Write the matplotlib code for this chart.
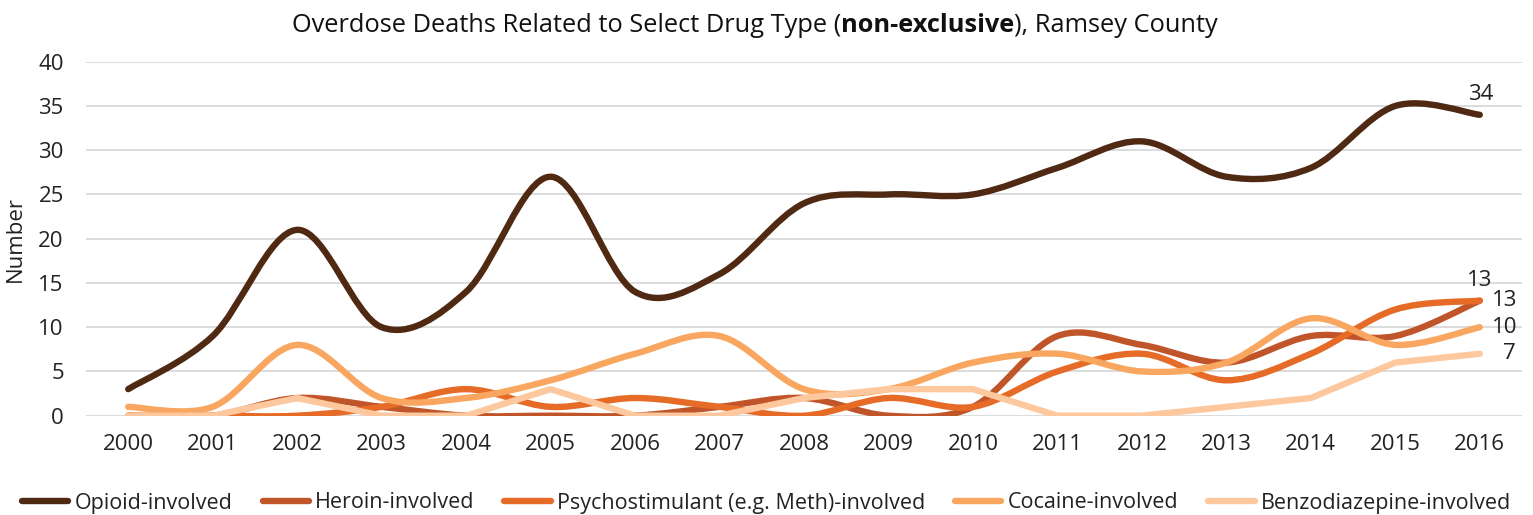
import numpy as np
import matplotlib
matplotlib.use("Agg")
import matplotlib.pyplot as plt
from matplotlib.path import Path
from matplotlib.patches import PathPatch
from matplotlib.lines import Line2D

plt.rcParams['font.family'] = ['Open Sans', 'DejaVu Sans']

years = list(range(2000, 2017))
opioid = [3, 9, 21, 10, 14, 27, 14, 16, 24, 25, 25, 28, 31, 27, 28, 35, 34]
heroin = [0, 0, 2, 1, 0, 0, 0, 1, 2, 0, 1, 9, 8, 6, 9, 9, 13]
psycho = [0, 0, 0, 1, 3, 1, 2, 1, 0, 2, 1, 5, 7, 4, 7, 12, 13]
cocaine = [1, 1, 8, 2, 2, 4, 7, 9, 3, 3, 6, 7, 5, 6, 11, 8, 10]
benzo = [0, 0, 2, 0, 0, 3, 0, 0, 2, 3, 3, 0, 0, 1, 2, 6, 7]

names = ['Opioid-involved', 'Heroin-involved',
         'Psychostimulant (e.g. Meth)-involved', 'Cocaine-involved',
         'Benzodiazepine-involved']
colors = ['#4F2912', '#C0552A', '#E56B27', '#F9A660', '#FDC89D']
smoothed = [True, True, True, True, False]
series = [opioid, heroin, psycho, cocaine, benzo]


def smooth_path(x, y):
    # cubic bezier through every point, catmull-rom style control points
    x = np.asarray(x, float)
    y = np.asarray(y, float)
    pts = np.column_stack([x, y])
    verts = [pts[0]]
    codes = [Path.MOVETO]
    n = len(pts)
    for i in range(n - 1):
        p0 = pts[max(i - 1, 0)]
        p1 = pts[i]
        p2 = pts[i + 1]
        p3 = pts[min(i + 2, n - 1)]
        c1 = p1 + (p2 - p0) / 6.0
        c2 = p2 - (p3 - p1) / 6.0
        verts += [c1, c2, p2]
        codes += [Path.CURVE4] * 3
    return Path(verts, codes)


fig = plt.figure(figsize=(15.33, 5.15), dpi=100)
ax = fig.add_axes([86 / 1533, 99.3 / 515, 1436 / 1533, 354 / 515])

lw = 4.6
for vals, col, sm in zip(series, colors, smoothed):
    if sm:
        patch = PathPatch(smooth_path(years, vals), fill=False, edgecolor=col,
                          lw=lw, capstyle='round', joinstyle='round', zorder=3)
        ax.add_patch(patch)
    else:
        ax.plot(years, vals, color=col, lw=lw, solid_capstyle='round',
                solid_joinstyle='round', zorder=3)

fs = 16
ax.set_xlim(1999.5, 2016.5)
ax.set_ylim(0, 40)
ax.set_xticks(years)
ax.set_yticks(range(0, 41, 5))
ax.tick_params(length=0, labelsize=fs, colors='#222222')
ax.tick_params(axis='x', pad=13)
ax.tick_params(axis='y', pad=16)
ax.grid(axis='y', color='#D9D9D9', lw=1.3, zorder=0)
for s in ax.spines.values():
    s.set_visible(False)
ax.set_ylabel('Number', fontsize=fs, color='#222222', labelpad=9)

# value labels on the last year
lbl = dict(fontsize=fs, color='#222222', zorder=5)
ax.annotate(str(opioid[-1]), (years[-1], opioid[-1]), xytext=(1, 7),
            textcoords='offset points', ha='center', va='bottom', **lbl)
ax.annotate(str(heroin[-1]), (years[-1], heroin[-1]), xytext=(0, 7),
            textcoords='offset points', ha='center', va='bottom', **lbl)
ax.annotate(str(psycho[-1]), (years[-1], psycho[-1]), xytext=(9, 0),
            textcoords='offset points', ha='left', va='center', **lbl)
ax.annotate(str(cocaine[-1]), (years[-1], cocaine[-1]), xytext=(9, 0),
            textcoords='offset points', ha='left', va='center', **lbl)
ax.annotate(str(benzo[-1]), (years[-1], benzo[-1]), xytext=(17, 0),
            textcoords='offset points', ha='left', va='center', **lbl)

# legend
handles = [Line2D([], [], color=c, lw=lw, solid_capstyle='round') for c in colors]
fig.legend(handles, names, loc='center', bbox_to_anchor=(0.5, 12 / 515),
           ncol=5, frameon=False, fontsize=15.5, handlelength=2.15,
           handletextpad=0.28, columnspacing=1.4, labelcolor='#222222')

# title with a bold middle part
parts = [('Overdose Deaths Related to Select Drug Type (', 'normal'),
         ('non-exclusive', 'bold'),
         ('), Ramsey County', 'normal')]
texts = [fig.text(0, 489 / 515, s, fontsize=18.3, fontweight=w, color='#111111',
                  va='center', ha='left') for s, w in parts]
fig.canvas.draw()
r = fig.canvas.get_renderer()
widths = [t.get_window_extent(r).width for t in texts]
x0 = 755 - sum(widths) / 2
for t, w in zip(texts, widths):
    t.set_x(x0 / 1533)
    x0 += w

fig.savefig('out.png', dpi=100)
